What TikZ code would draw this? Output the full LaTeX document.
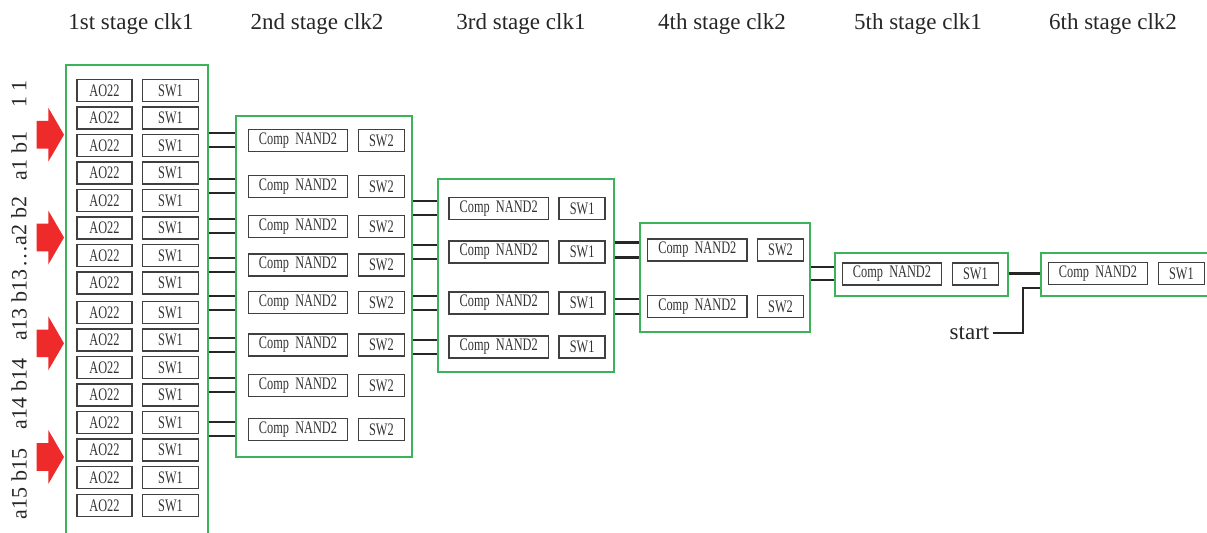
\documentclass[tikz,border=0pt]{standalone}
\usepackage{fontspec}
\setmainfont{Liberation Serif}
\newfontfamily\cellfont[FakeStretch=0.7]{Liberation Serif}
\usepackage{xcolor}
\usetikzlibrary{positioning, calc}
\definecolor{stagegreen}{RGB}{60,178,90}
\definecolor{feedred}{RGB}{238,42,42}

\begin{document}
\begin{tikzpicture}[
    x=0.5pt, y=-0.5pt,
    stage/.style={
        draw=stagegreen, line width=1pt, rectangle, inner sep=0pt
    },
    cell/.style={
        draw=black!75, line width=0.75pt, rectangle, minimum height=11pt,
        inner sep=0pt, text=black!80, font=\cellfont\fontsize{8.8}{9}\selectfont
    },
    gate/.style={cell, minimum width=27.5pt},
    comp/.style={cell, minimum width=49.7pt},
    sw/.style={cell, minimum width=23pt},
    title/.style={font=\fontsize{11.5}{13}\selectfont, text=black!85},
    sig/.style={font=\fontsize{11}{13}\selectfont, rotate=90, text=black!85},
    wire/.style={draw=black!85, line width=1.1pt},
    feed/.style={fill=feedred, draw=none}
]
\useasboundingbox (0,0) rectangle (1207,532);
\clip (0,0) rectangle (1207,532);

% stage titles
\foreach \x/\lbl [count=\i] in {131/1st stage clk1, 317/2nd stage clk2,
    521/3rd stage clk1, 722/4th stage clk2, 918/5th stage clk1, 1113/6th stage clk2}
    \node [title] (t\i) at (\x,24) {\lbl};

% stage frames
\node [stage, minimum width=71pt, minimum height=240pt]  (s1) at (137,305) {};
\node [stage, minimum width=88pt, minimum height=170.5pt] (s2) at (324,286.5) {};
\node [stage, minimum width=88pt, minimum height=96.7pt]  (s3) at (526,275.7) {};
\node [stage, minimum width=85pt, minimum height=54.8pt]  (s4) at (725,277.5) {};
\node [stage, minimum width=86.7pt, minimum height=21.5pt] (s5) at (921.7,274.2) {};
\node [stage, minimum width=109.5pt, minimum height=21.5pt] (s6) at (1150.5,274.1) {};

% inputs
\foreach \y/\lbl [count=\i] in {94/1 1, 156/a1 b1, 232/\ldots a2 b2,
    305/a13 b13, 394/a14 b14, 484/a15 b15}
    \node [sig] (in\i) at (19,\y) {\lbl};
\foreach \y [count=\i] in {134.7,237.5,343.3,457} {
    \coordinate (f\i) at (64,\y);
    \fill [feed] (f\i) -- ++(-15.7,-27) -- ++(0,13.2) -- ++(-11.6,0)
        -- ++(0,27.6) -- ++(11.6,0) -- ++(0,13.2) -- cycle;
}

% 1st stage
\foreach \y [count=\i] in {90.5,118,145.5,173,200.5,228,255.5,283,
    312.5,340,367.5,395,422.5,450,477.5,505.5} {
    \node [gate] (a\i) at (104.5,\y) {AO22};
    \node [sw, minimum width=28pt, right=4.5pt of a\i] (aw\i) {SW1};
}

% 2nd stage
\foreach \y [count=\i] in {140.3,186.3,226.3,265,302.7,345,385.3,429.3} {
    \node [comp] (b\i) at (298,\y) {Comp~ NAND2};
    \node [sw, right=4.6pt of b\i] (bw\i) {SW2};
    \foreach \d in {3.5pt,-3.5pt}
        \draw[wire] ($(b\i.west -| s1.east)+(0,\d)$) -- ($(b\i.west -| s2.west)+(0,\d)$);
}

% 3rd stage
\foreach \y [count=\i] in {208.3,252,303,347} {
    \node [comp] (c\i) at (498.7,\y) {Comp~ NAND2};
    \node [sw, right=4.6pt of c\i] (cw\i) {SW1};
    \foreach \d in {3.5pt,-3.5pt}
        \draw[wire] ($(c\i.west -| s2.east)+(0,\d)$) -- ($(c\i.west -| s3.west)+(0,\d)$);
}

% 4th stage
\foreach \y [count=\i] in {250,306.7} {
    \node [comp] (d\i) at (697.3,\y) {Comp~ NAND2};
    \node [sw, minimum width=22.8pt, right=4.6pt of d\i] (dw\i) {SW2};
    \foreach \d in {3.75pt,-3.75pt}
        \draw[wire] ($(d\i.west -| s3.east)+(0,\d)$) -- ($(d\i.west -| s4.west)+(0,\d)$);
}

% 5th stage
\node [comp] (e1) at (892,273.8) {Comp~ NAND2};
\node [sw, right=4.6pt of e1] (ew1) {SW1};
\foreach \d in {3.25pt,-3.25pt}
    \draw[wire] ($(e1.west -| s4.east)+(0,\d)$) -- ($(e1.west -| s5.west)+(0,\d)$);

% 6th stage
\node [comp] (h1) at (1098,273.5) {Comp~ NAND2};
\node [sw, right=4.6pt of h1] (hw1) {SW1};
\draw[wire] (s5.east |- h1) -- (s6.west |- h1);

\node [title, anchor=east, inner sep=1.5pt] (start) at (992.7,332.7) {start};
\draw[wire] (start.east) -- ++(15pt,0) |- ($(s6.west)+(0,-7.1pt)$);

\end{tikzpicture}
\end{document}
